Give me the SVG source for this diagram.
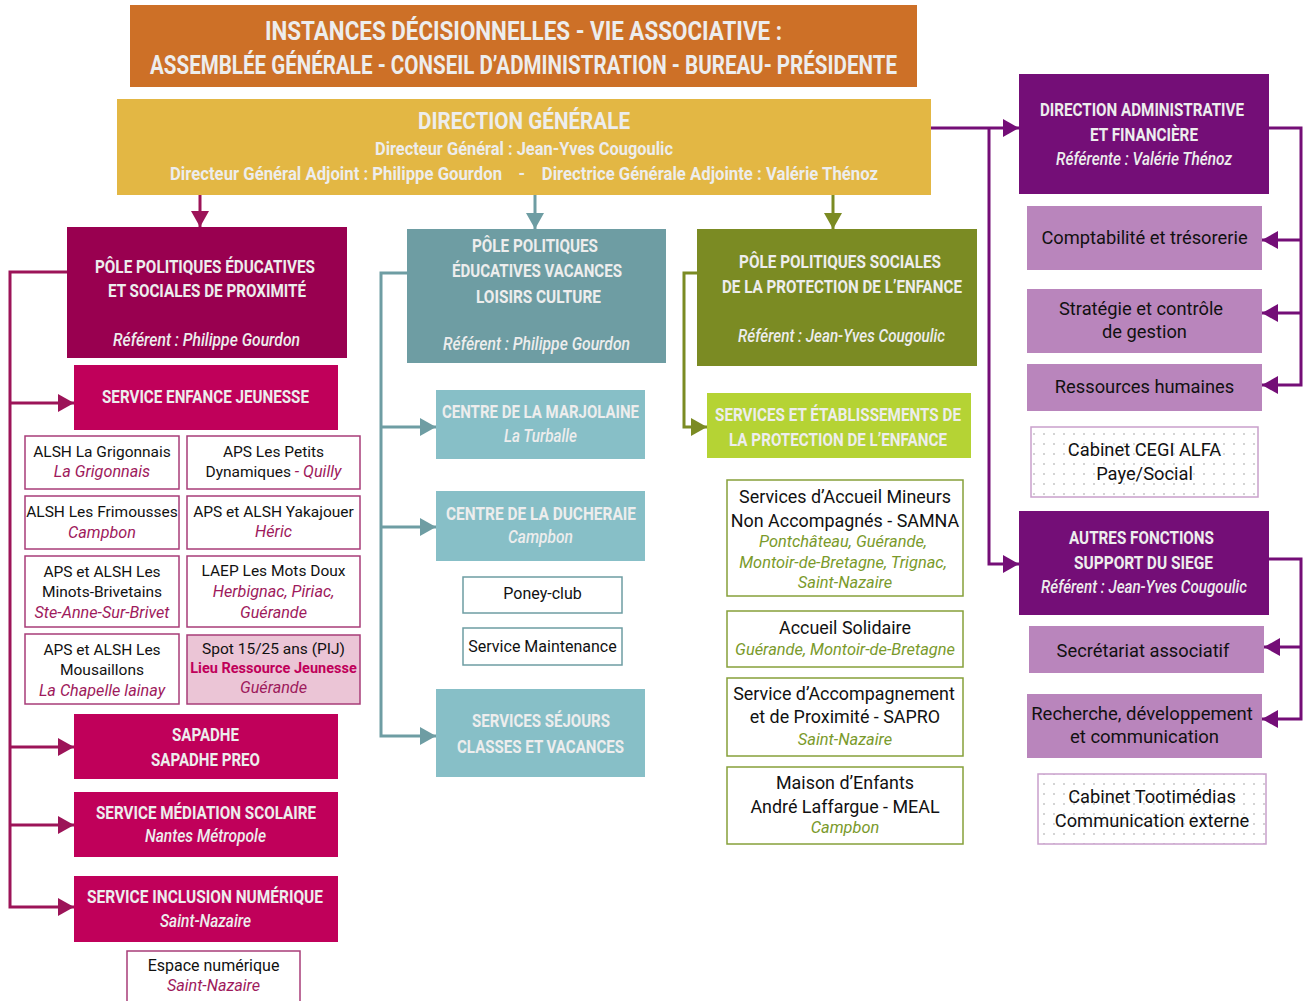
<svg xmlns="http://www.w3.org/2000/svg" width="1307" height="1001" viewBox="0 0 1307 1001">
<defs>
<style>
.h{font-family:Roboto,"Liberation Sans",sans-serif;font-weight:700;fill:#EDEDED}
.hi{font-family:Roboto,"Liberation Sans",sans-serif;font-weight:500;font-style:italic;fill:#EDEDED}
.t{font-family:Roboto,"Liberation Sans",sans-serif;fill:#111;text-anchor:middle}
.loc{font-style:italic;fill:#9E1A5C}
.gloc{font-style:italic;fill:#7A9A2B}
.sb{fill:#fff;stroke:#A83C78;stroke-width:1.5}
.gb{fill:#fff;stroke:#86A03A;stroke-width:1.5}
.tb{fill:#fff;stroke:#6E9DA3;stroke-width:1.5}
.db{fill:url(#dots);stroke:#C9A0CB;stroke-width:1.5}
.c{fill:none;stroke-width:3}
</style>
<pattern id="dots" width="10" height="10" patternUnits="userSpaceOnUse">
<rect width="10" height="10" fill="#fff"/>
<circle cx="4" cy="4" r="0.7" fill="#8a8a8a"/>
</pattern>
<marker id="am" viewBox="0 0 16 18" refX="16" refY="9" markerWidth="16" markerHeight="18" markerUnits="userSpaceOnUse" orient="auto"><path d="M0,0 L16,9 L0,18 z" fill="#9C1458"/></marker>
<marker id="at" viewBox="0 0 16 18" refX="16" refY="9" markerWidth="16" markerHeight="18" markerUnits="userSpaceOnUse" orient="auto"><path d="M0,0 L16,9 L0,18 z" fill="#6E9DA3"/></marker>
<marker id="ao" viewBox="0 0 16 18" refX="16" refY="9" markerWidth="16" markerHeight="18" markerUnits="userSpaceOnUse" orient="auto"><path d="M0,0 L16,9 L0,18 z" fill="#7B8B23"/></marker>
<marker id="ap" viewBox="0 0 16 18" refX="16" refY="9" markerWidth="16" markerHeight="18" markerUnits="userSpaceOnUse" orient="auto"><path d="M0,0 L16,9 L0,18 z" fill="#740E77"/></marker>
</defs>
<rect width="1307" height="1001" fill="#fff"/>

<g id="connectors">
<path class="c" stroke="#9C1458" d="M200,195 V227" marker-end="url(#am)"/>
<path class="c" stroke="#9C1458" d="M67,272 H10 V907 H74" marker-end="url(#am)"/>
<path class="c" stroke="#9C1458" d="M10,403 H74" marker-end="url(#am)"/>
<path class="c" stroke="#9C1458" d="M10,747 H74" marker-end="url(#am)"/>
<path class="c" stroke="#9C1458" d="M10,825 H74" marker-end="url(#am)"/>
<path class="c" stroke="#6E9DA3" d="M535,195 V229" marker-end="url(#at)"/>
<path class="c" stroke="#6E9DA3" d="M407,273 H381 V736 H436" marker-end="url(#at)"/>
<path class="c" stroke="#6E9DA3" d="M381,427 H436" marker-end="url(#at)"/>
<path class="c" stroke="#6E9DA3" d="M381,527 H436" marker-end="url(#at)"/>
<path class="c" stroke="#7B8B23" d="M833,195 V229" marker-end="url(#ao)"/>
<path class="c" stroke="#7B8B23" d="M697,273 H684 V427 H707" marker-end="url(#ao)"/>
<path class="c" stroke="#740E77" d="M931,128 H1019" marker-end="url(#ap)"/>
<path class="c" stroke="#740E77" d="M989,128 V564 H1019" marker-end="url(#ap)"/>
<path class="c" stroke="#740E77" d="M1269,128 H1301 V385 H1262" marker-end="url(#ap)"/>
<path class="c" stroke="#740E77" d="M1301,240 H1262" marker-end="url(#ap)"/>
<path class="c" stroke="#740E77" d="M1301,313 H1262" marker-end="url(#ap)"/>
<path class="c" stroke="#740E77" d="M1269,559 H1301 V719 H1262" marker-end="url(#ap)"/>
<path class="c" stroke="#740E77" d="M1301,647 H1264" marker-end="url(#ap)"/>
</g>

<g id="instances">
<rect x="130" y="5" width="787" height="82" fill="#CD7027"/>
<text class="h" x="265" y="39.5" font-size="26" textLength="517" lengthAdjust="spacingAndGlyphs">INSTANCES DÉCISIONNELLES - VIE ASSOCIATIVE :</text>
<text class="h" x="150" y="74" font-size="26" textLength="747" lengthAdjust="spacingAndGlyphs">ASSEMBLÉE GÉNÉRALE - CONSEIL D’ADMINISTRATION - BUREAU- PRÉSIDENTE</text>
</g>

<g id="direction-generale">
<rect x="117" y="99" width="814" height="96" fill="#E3B744"/>
<text class="h" x="418" y="129" font-size="23" textLength="212" lengthAdjust="spacingAndGlyphs">DIRECTION GÉNÉRALE</text>
<text class="h" x="375" y="155" font-size="18" textLength="298" lengthAdjust="spacingAndGlyphs">Directeur Général : Jean-Yves Cougoulic</text>
<text class="h" x="170" y="180" font-size="18" textLength="708" lengthAdjust="spacingAndGlyphs">Directeur Général Adjoint : Philippe Gourdon&#160;&#160;&#160;&#160;-&#160;&#160;&#160;&#160;Directrice Générale Adjointe : Valérie Thénoz</text>
</g>

<g id="pole-educatif">
<rect x="67" y="227" width="280" height="131" fill="#990050"/>
<text class="h" x="95" y="273" font-size="19" textLength="220" lengthAdjust="spacingAndGlyphs">PÔLE POLITIQUES ÉDUCATIVES</text>
<text class="h" x="108" y="297" font-size="19" textLength="198" lengthAdjust="spacingAndGlyphs">ET SOCIALES DE PROXIMITÉ</text>
<text class="hi" x="113" y="346" font-size="19" textLength="187" lengthAdjust="spacingAndGlyphs">Référent : Philippe Gourdon</text>
</g>

<g id="service-enfance">
<rect x="74" y="365" width="264" height="65" fill="#C0005A"/>
<text class="h" x="102" y="403" font-size="19" textLength="207" lengthAdjust="spacingAndGlyphs">SERVICE ENFANCE JEUNESSE</text>
</g>

<g id="alsh-grigonnais">
<rect class="sb" x="25" y="436" width="154" height="53"/>
<text class="t" x="102" y="457" font-size="15.5">ALSH La Grigonnais</text>
<text class="t loc" x="102" y="477" font-size="16.2">La Grigonnais</text>
</g>
<g id="aps-petits-dynamiques">
<rect class="sb" x="187" y="436" width="173" height="53"/>
<text class="t" x="273.5" y="457" font-size="15.5">APS Les Petits</text>
<text class="t" x="273.5" y="477" font-size="15.5">Dynamiques <tspan class="loc" font-size="16.2">- Quilly</tspan></text>
</g>
<g id="alsh-frimousses">
<rect class="sb" x="25" y="496" width="154" height="53"/>
<text class="t" x="102" y="517" font-size="15.5">ALSH Les Frimousses</text>
<text class="t loc" x="102" y="538" font-size="16.2">Campbon</text>
</g>
<g id="aps-yakajouer">
<rect class="sb" x="187" y="496" width="173" height="53"/>
<text class="t" x="273.5" y="517" font-size="15.5">APS et ALSH Yakajouer</text>
<text class="t loc" x="273.5" y="537" font-size="16.2">Héric</text>
</g>
<g id="aps-minots">
<rect class="sb" x="25" y="556" width="154" height="71"/>
<text class="t" x="102" y="577" font-size="15.5">APS et ALSH Les</text>
<text class="t" x="102" y="597" font-size="15.5">Minots-Brivetains</text>
<text class="t loc" x="102" y="618" font-size="16.2">Ste-Anne-Sur-Brivet</text>
</g>
<g id="laep-mots-doux">
<rect class="sb" x="187" y="556" width="173" height="71"/>
<text class="t" x="273.5" y="576" font-size="15.5">LAEP Les Mots Doux</text>
<text class="t loc" x="273.5" y="597" font-size="16.2">Herbignac, Piriac,</text>
<text class="t loc" x="273.5" y="618" font-size="16.2">Guérande</text>
</g>
<g id="aps-mousaillons">
<rect class="sb" x="25" y="634" width="154" height="70"/>
<text class="t" x="102" y="655" font-size="15.5">APS et ALSH Les</text>
<text class="t" x="102" y="675" font-size="15.5">Mousaillons</text>
<text class="t loc" x="102" y="696" font-size="16.2">La Chapelle lainay</text>
</g>
<g id="spot-pij">
<rect class="sb" x="187" y="635" width="173" height="69" style="fill:#EBC5D6"/>
<text class="t" x="273.5" y="654" font-size="15.5">Spot 15/25 ans (PIJ)</text>
<text class="t" x="273.5" y="673" font-size="14.5" font-weight="700" style="fill:#C0005A">Lieu Ressource Jeunesse</text>
<text class="t loc" x="273.5" y="693" font-size="16.2">Guérande</text>
</g>

<g id="sapadhe">
<rect x="74" y="714" width="264" height="65" fill="#C0005A"/>
<text class="h" x="172" y="741" font-size="19" textLength="67" lengthAdjust="spacingAndGlyphs">SAPADHE</text>
<text class="h" x="151" y="766" font-size="19" textLength="109" lengthAdjust="spacingAndGlyphs">SAPADHE PREO</text>
</g>
<g id="mediation">
<rect x="74" y="792" width="264" height="65" fill="#C0005A"/>
<text class="h" x="96" y="819" font-size="19" textLength="220" lengthAdjust="spacingAndGlyphs">SERVICE MÉDIATION SCOLAIRE</text>
<text class="hi" x="145" y="842" font-size="18" textLength="121" lengthAdjust="spacingAndGlyphs">Nantes Métropole</text>
</g>
<g id="inclusion">
<rect x="74" y="876" width="264" height="66" fill="#C0005A"/>
<text class="h" x="87" y="903" font-size="19" textLength="236" lengthAdjust="spacingAndGlyphs">SERVICE INCLUSION NUMÉRIQUE</text>
<text class="hi" x="160" y="927" font-size="18" textLength="91" lengthAdjust="spacingAndGlyphs">Saint-Nazaire</text>
</g>
<g id="espace-numerique">
<rect class="sb" x="127" y="951" width="173" height="60"/>
<text class="t" x="213.5" y="971" font-size="16">Espace numérique</text>
<text class="t loc" x="213.5" y="991" font-size="16.2">Saint-Nazaire</text>
</g>

<g id="pole-vacances">
<rect x="407" y="229" width="259" height="134" fill="#6E9DA3"/>
<text class="h" x="472" y="252" font-size="19" textLength="126" lengthAdjust="spacingAndGlyphs">PÔLE POLITIQUES</text>
<text class="h" x="452" y="277" font-size="19" textLength="170" lengthAdjust="spacingAndGlyphs">ÉDUCATIVES VACANCES</text>
<text class="h" x="476" y="303" font-size="19" textLength="125" lengthAdjust="spacingAndGlyphs">LOISIRS CULTURE</text>
<text class="hi" x="443" y="350" font-size="19" textLength="187" lengthAdjust="spacingAndGlyphs">Référent : Philippe Gourdon</text>
</g>
<g id="marjolaine">
<rect x="436" y="390" width="209" height="69" fill="#87BFC7"/>
<text class="h" x="442" y="418" font-size="19" textLength="197" lengthAdjust="spacingAndGlyphs">CENTRE DE LA MARJOLAINE</text>
<text class="hi" x="504" y="442" font-size="18" textLength="73" lengthAdjust="spacingAndGlyphs">La Turballe</text>
</g>
<g id="ducheraie">
<rect x="436" y="491" width="209" height="70" fill="#87BFC7"/>
<text class="h" x="446" y="520" font-size="19" textLength="190" lengthAdjust="spacingAndGlyphs">CENTRE DE LA DUCHERAIE</text>
<text class="hi" x="508" y="543" font-size="18" textLength="65" lengthAdjust="spacingAndGlyphs">Campbon</text>
</g>
<g id="poney-club">
<rect class="tb" x="463" y="577" width="159" height="36"/>
<text class="t" x="542.5" y="599" font-size="16">Poney-club</text>
</g>
<g id="maintenance">
<rect class="tb" x="463" y="628" width="159" height="37"/>
<text class="t" x="542.5" y="652" font-size="16">Service Maintenance</text>
</g>
<g id="sejours">
<rect x="436" y="689" width="209" height="88" fill="#87BFC7"/>
<text class="h" x="472" y="727" font-size="19" textLength="138" lengthAdjust="spacingAndGlyphs">SERVICES SÉJOURS</text>
<text class="h" x="457" y="753" font-size="19" textLength="167" lengthAdjust="spacingAndGlyphs">CLASSES ET VACANCES</text>
</g>

<g id="pole-social">
<rect x="697" y="229" width="280" height="137" fill="#7B8B23"/>
<text class="h" x="739" y="268" font-size="19" textLength="202" lengthAdjust="spacingAndGlyphs">PÔLE POLITIQUES SOCIALES</text>
<text class="h" x="722" y="293" font-size="19" textLength="240" lengthAdjust="spacingAndGlyphs">DE LA PROTECTION DE L’ENFANCE</text>
<text class="hi" x="738" y="342" font-size="19" textLength="207" lengthAdjust="spacingAndGlyphs">Référent : Jean-Yves Cougoulic</text>
</g>
<g id="services-protection">
<rect x="707" y="393" width="264" height="65" fill="#B5D334"/>
<text class="h" x="715" y="421" font-size="19" textLength="246" lengthAdjust="spacingAndGlyphs">SERVICES ET ÉTABLISSEMENTS DE</text>
<text class="h" x="729" y="446" font-size="19" textLength="218" lengthAdjust="spacingAndGlyphs">LA PROTECTION DE L’ENFANCE</text>
</g>
<g id="samna">
<rect class="gb" x="727" y="480" width="236" height="116"/>
<text class="t" x="845" y="503" font-size="17.9">Services d’Accueil Mineurs</text>
<text class="t" x="845" y="527" font-size="17.9">Non Accompagnés - SAMNA</text>
<text class="t gloc" x="843" y="547" font-size="16.4">Pontchâteau, Guérande,</text>
<text class="t gloc" x="843" y="568" font-size="16.4">Montoir-de-Bretagne, Trignac,</text>
<text class="t gloc" x="845" y="588" font-size="16.4">Saint-Nazaire</text>
</g>
<g id="accueil-solidaire">
<rect class="gb" x="727" y="611" width="236" height="56"/>
<text class="t" x="845" y="634" font-size="17.9">Accueil Solidaire</text>
<text class="t gloc" x="845" y="655" font-size="16.4">Guérande, Montoir-de-Bretagne</text>
</g>
<g id="sapro">
<rect class="gb" x="727" y="678" width="236" height="78"/>
<text class="t" x="844" y="700" font-size="17.9">Service d’Accompagnement</text>
<text class="t" x="845" y="723" font-size="17.9">et de Proximité - SAPRO</text>
<text class="t gloc" x="845" y="745" font-size="16.4">Saint-Nazaire</text>
</g>
<g id="meal">
<rect class="gb" x="727" y="767" width="236" height="77"/>
<text class="t" x="845" y="789" font-size="17.9">Maison d’Enfants</text>
<text class="t" x="845" y="813" font-size="17.9">André Laffargue - MEAL</text>
<text class="t gloc" x="845" y="833" font-size="16.4">Campbon</text>
</g>

<g id="direction-administrative">
<rect x="1019" y="74" width="250" height="120" fill="#740E77"/>
<text class="h" x="1040" y="116" font-size="19" textLength="204" lengthAdjust="spacingAndGlyphs">DIRECTION ADMINISTRATIVE</text>
<text class="h" x="1090" y="141" font-size="19" textLength="108" lengthAdjust="spacingAndGlyphs">ET FINANCIÈRE</text>
<text class="hi" x="1056" y="165" font-size="19" textLength="176" lengthAdjust="spacingAndGlyphs">Référente : Valérie Thénoz</text>
</g>
<g id="comptabilite">
<rect x="1027" y="206" width="235" height="64" fill="#B985BC"/>
<text class="t" x="1144.5" y="244" font-size="18.3">Comptabilité et trésorerie</text>
</g>
<g id="strategie">
<rect x="1027" y="289" width="235" height="64" fill="#B985BC"/>
<text class="t" x="1141" y="315" font-size="18.3">Stratégie et contrôle</text>
<text class="t" x="1144.5" y="338" font-size="18.3">de gestion</text>
</g>
<g id="rh">
<rect x="1027" y="364" width="235" height="47" fill="#B985BC"/>
<text class="t" x="1144.5" y="393" font-size="18.3">Ressources humaines</text>
</g>
<g id="cegi">
<rect class="db" x="1031" y="427" width="227" height="70"/>
<text class="t" x="1144.5" y="456" font-size="18.3">Cabinet CEGI ALFA</text>
<text class="t" x="1144.5" y="480" font-size="18.3">Paye/Social</text>
</g>
<g id="autres-fonctions">
<rect x="1019" y="511" width="250" height="104" fill="#740E77"/>
<text class="h" x="1069" y="544" font-size="19" textLength="145" lengthAdjust="spacingAndGlyphs">AUTRES FONCTIONS</text>
<text class="h" x="1074" y="569" font-size="19" textLength="139" lengthAdjust="spacingAndGlyphs">SUPPORT DU SIEGE</text>
<text class="hi" x="1041" y="593" font-size="19" textLength="206" lengthAdjust="spacingAndGlyphs">Référent : Jean-Yves Cougoulic</text>
</g>
<g id="secretariat">
<rect x="1029" y="626" width="235" height="47" fill="#B985BC"/>
<text class="t" x="1143" y="657" font-size="18.3">Secrétariat associatif</text>
</g>
<g id="recherche">
<rect x="1027" y="694" width="235" height="64" fill="#B985BC"/>
<text class="t" x="1142" y="720" font-size="18.5">Recherche, développement</text>
<text class="t" x="1144.5" y="743" font-size="18.5">et communication</text>
</g>
<g id="tootimedias">
<rect class="db" x="1038" y="774" width="228" height="70"/>
<text class="t" x="1152" y="803" font-size="18.3">Cabinet Tootimédias</text>
<text class="t" x="1152" y="827" font-size="18.3">Communication externe</text>
</g>
</svg>
